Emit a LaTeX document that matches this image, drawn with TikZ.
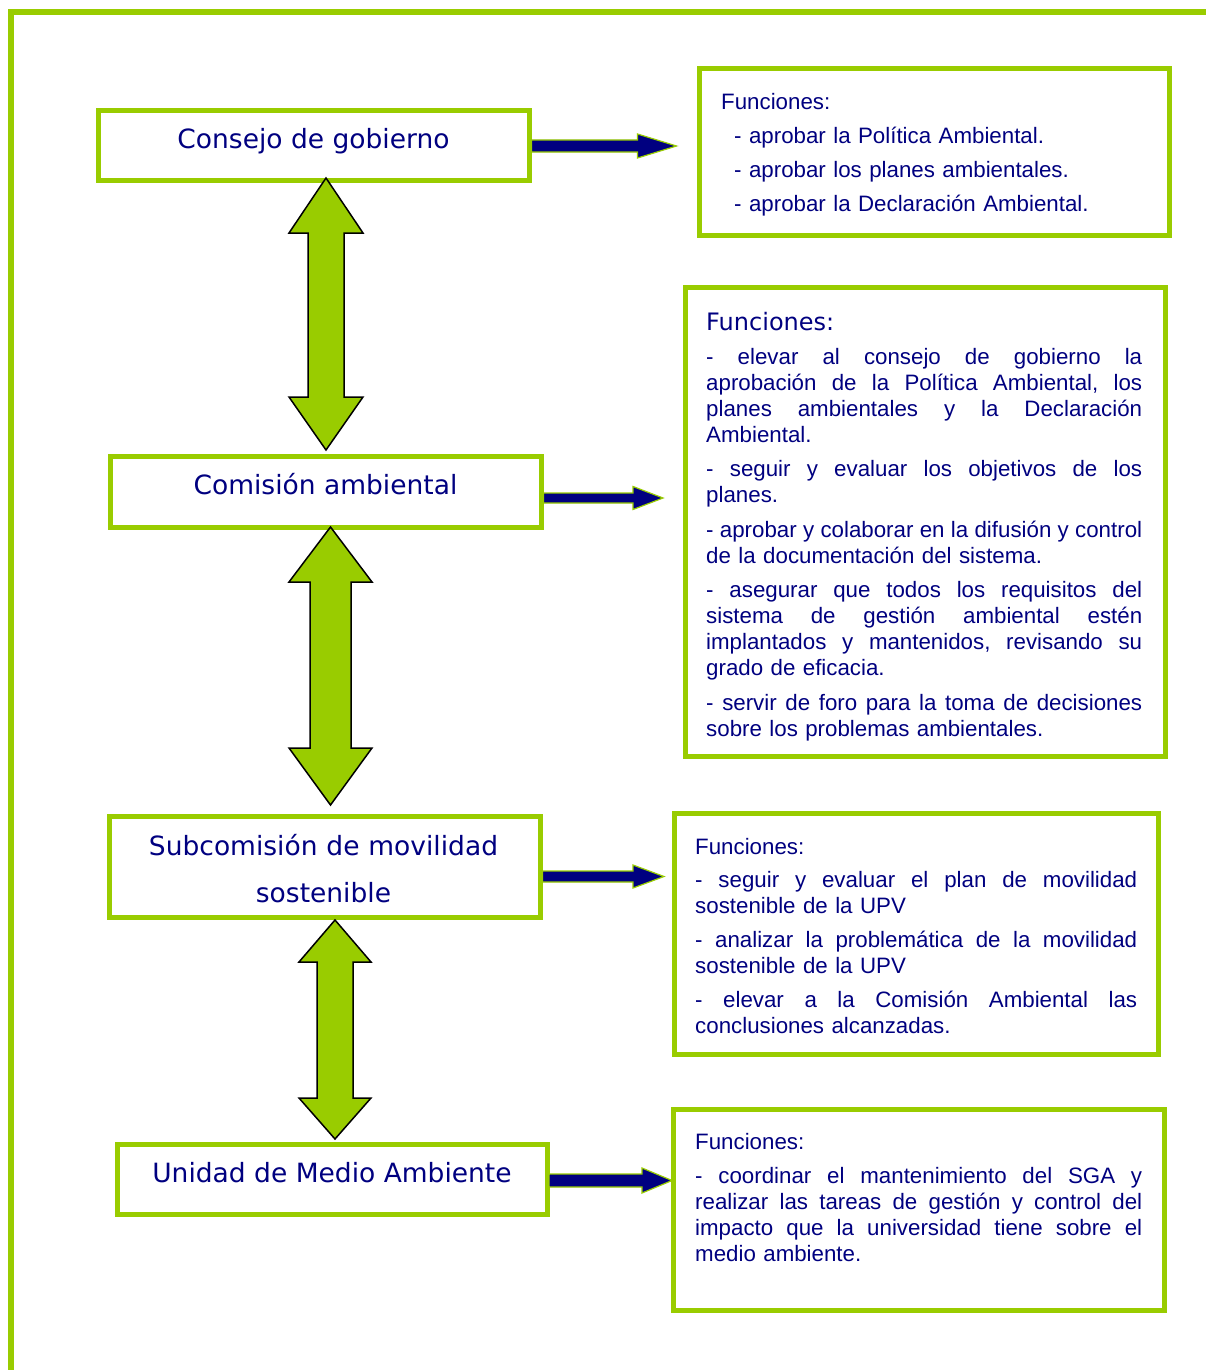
\documentclass[tikz,border=0pt]{standalone}
\usepackage{fontspec}
\setmainfont{Liberation Sans}
\newfontfamily\verd{DejaVu Sans}
\definecolor{lgreen}{HTML}{99CC00}
\definecolor{navyc}{HTML}{000080}
\newcommand\jl[2]{\makebox[#1][s]{\frenchspacing\spaceskip=0.278em plus 1fil minus 0.1em\relax #2}}
\newcommand\jlB[1]{\jl{436pt}{#1}}
\newcommand\jlC[1]{\jl{442pt}{#1}}
\newcommand\jlD[1]{\jl{447pt}{#1}}
% blue arrow: node, dy, shaft half, shaft length, head half, head length
\newcommand\barrow[6]{\draw[barr] (#1.east) ++(2,#2-#3) -- ++(#4,0) -- ++(0,#3-#5) -- ++(#6,#5) -- ++(-#6,#5) -- ++(0,#3-#5) -- ++(-#4,0) -- cycle;}
% green double arrow: start, head half, shaft half, head len 1, mid, head len 2
\newcommand\garrow[6]{\draw[garr] #1 -- ++(#2,#4) -- ++(#3-#2,0) -- ++(0,#5) -- ++(#2-#3,0) -- ++(-#2,#6) -- ++(-#2,-#6) -- ++(#2-#3,0) -- ++(0,-#5) -- ++(#3-#2,0) -- cycle;}
\begin{document}
\begin{tikzpicture}[x=1pt,y=-1pt,
  box/.style={draw=lgreen, line width=5pt, inner sep=0pt, outer sep=0pt, fill=white},
  lt/.style={text=navyc, inner sep=0pt, font=\verd\fontsize{26.5}{47}\selectfont},
  rt/.style={text=navyc, inner sep=0pt, anchor=north west, align=left, font=\fontsize{22.3}{26}\selectfont},
  barr/.style={fill=navyc, draw=lgreen, line width=1.2pt, line join=miter},
  garr/.style={fill=lgreen, draw=black, line width=1.5pt, line join=miter}]
\fill[white] (0,0) rectangle (1206,1370);
\useasboundingbox (0,0) rectangle (1206,1370);
\draw[lgreen, line width=6pt, line join=miter] (11,1380) -- (11,12) -- (1216,12);

% left boxes
\node[box, minimum width=431pt, minimum height=70pt] (L1) at (314,145.5) {};
\node[box, minimum width=431.5pt, minimum height=71pt] (L2) at (325.75,491.5) {};
\node[box, minimum width=431pt, minimum height=101pt] (L3) at (325,867) {};
\node[box, minimum width=430pt, minimum height=70pt] (L4) at (332,1179) {};
% right boxes
\node[box, minimum width=470pt, minimum height=166.5pt] (R1) at (934.5,152.25) {};
\node[box, minimum width=479.5pt, minimum height=468.5pt] (R2) at (925.25,521.75) {};
\node[box, minimum width=484.5pt, minimum height=241pt] (R3) at (916.25,933.5) {};
\node[box, minimum width=490.5pt, minimum height=201pt] (R4) at (918.75,1209.5) {};

% left texts
\node[lt, anchor=base] (tL1) at (313.5,149) {Consejo de gobierno};
\node[lt, anchor=base] (tL2) at (325.5,494) {Comisión ambiental};
\node[lt, anchor=north, text width=440pt, align=center] (tL3) at (323.5,833) {\rule{0pt}{22pt}Subcomisión de movilidad\\ sostenible};
\node[lt, anchor=base] (tL4) at (332,1182) {Unidad de Medio Ambiente};

% right texts
\node[rt, text width=440pt, font=\fontsize{22.3}{34}\selectfont] (tR1) at (721,89) {\rule{0pt}{20pt}Funciones:\\
\hspace*{13pt}- aprobar la Política Ambiental.\\
\hspace*{13pt}- aprobar los planes ambientales.\\
\hspace*{13pt}- aprobar la Declaración Ambiental.};

\node[rt, text width=436pt] (tR2) at (706,310) {\rule{0pt}{20pt}{\verd\fontsize{24}{26}\selectfont Funciones:}\\[8pt]
\jlB{- elevar al consejo de gobierno la}\\
\jlB{aprobación de la Política Ambiental, los}\\
\jlB{planes ambientales y la Declaración}\\
Ambiental.\\[8.5pt]
\jlB{- seguir y evaluar los objetivos de los}\\
planes.\\[8.5pt]
\jlB{- aprobar y colaborar en la difusión y control}\\
de la documentación del sistema.\\[8.5pt]
\jlB{- asegurar que todos los requisitos del}\\
\jlB{sistema de gestión ambiental estén}\\
\jlB{implantados y mantenidos, revisando su}\\
grado de eficacia.\\[8.5pt]
\jlB{- servir de foro para la toma de decisiones}\\
sobre los problemas ambientales.};

\node[rt, text width=442pt] (tR3) at (695,834) {\rule{0pt}{20pt}Funciones:\\[7pt]
\jlC{- seguir y evaluar el plan de movilidad}\\
sostenible de la UPV\\[8pt]
\jlC{- analizar la problemática de la movilidad}\\
sostenible de la UPV\\[8pt]
\jlC{- elevar a la Comisión Ambiental las}\\
conclusiones alcanzadas.};

\node[rt, text width=447pt] (tR4) at (695,1129) {\rule{0pt}{20pt}Funciones:\\[8pt]
\jlD{- coordinar el mantenimiento del SGA y}\\
\jlD{realizar las tareas de gestión y control del}\\
\jlD{impacto que la universidad tiene sobre el}\\
medio ambiente.};

% blue arrows
\barrow{L1}{0.5}{6}{106}{12}{39}
\barrow{L2}{6.5}{5}{89.5}{11.5}{30}
\barrow{L3}{9.5}{5.5}{90.5}{11.5}{31}
\barrow{L4}{1.5}{6.5}{93}{12.5}{30}

% green double arrows
\garrow{(L1.south) ++(12,-2.5)}{37}{18}{55}{164}{53}
\garrow{(L2.south) ++(4.75,0)}{41.5}{20.5}{55}{166}{57}
\garrow{(L3.south) ++(10,2.5)}{36}{18}{42}{136}{41}
\end{tikzpicture}
\end{document}
